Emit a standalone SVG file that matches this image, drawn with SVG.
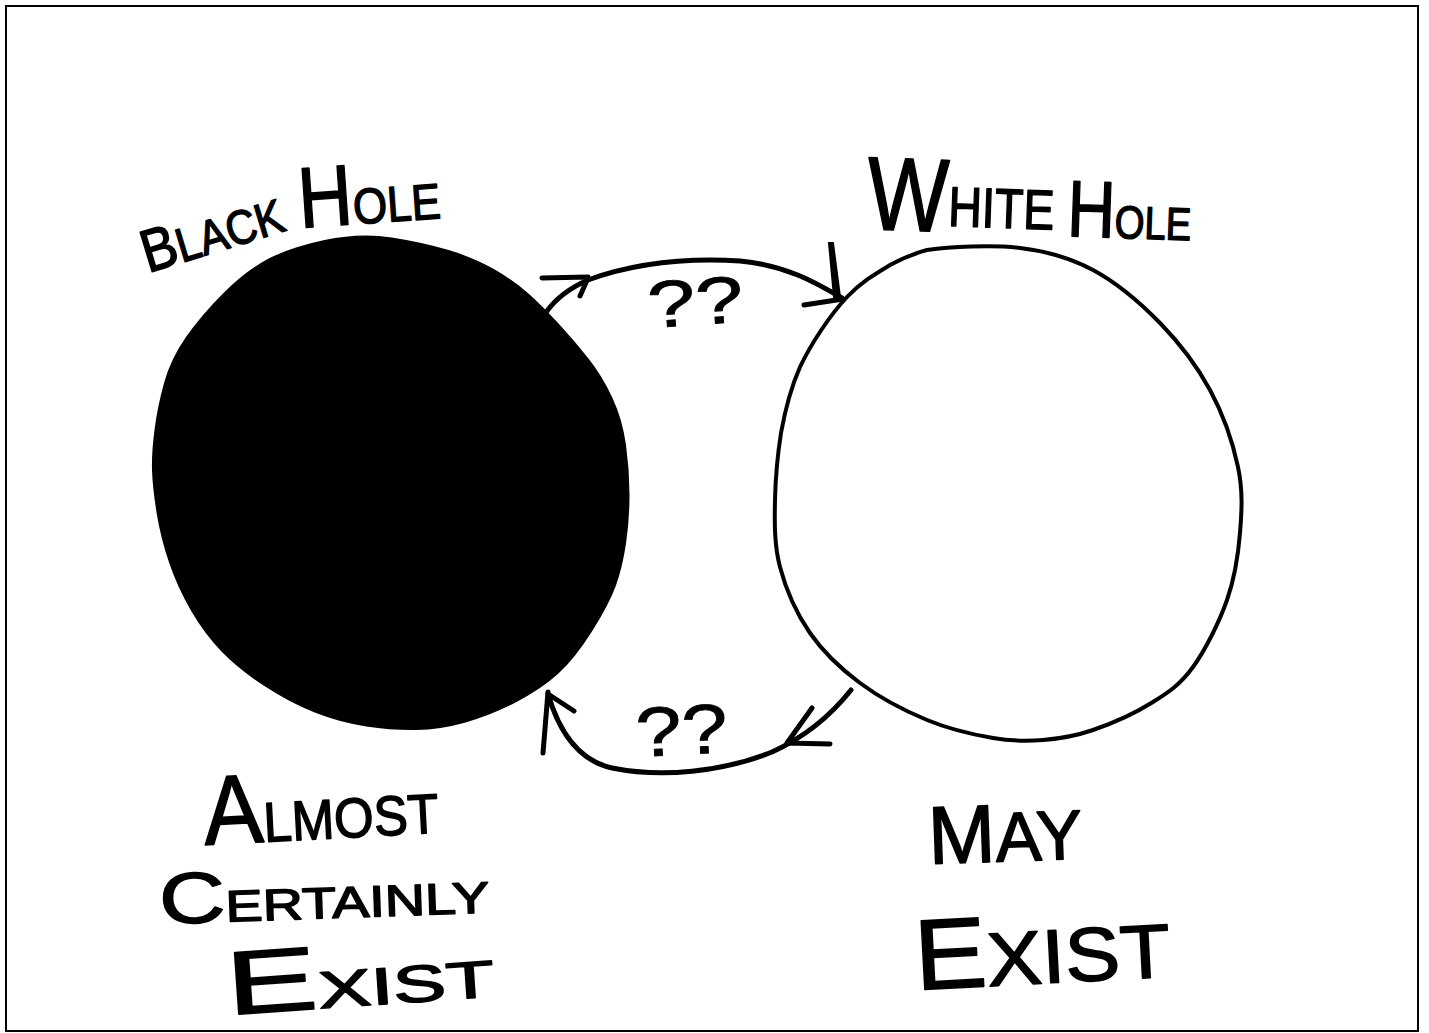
<svg xmlns="http://www.w3.org/2000/svg" width="1429" height="1033" viewBox="0 0 1429 1033">
<style>
.hand{font-family:"Liberation Sans","DejaVu Sans",sans-serif;fill:#000;stroke:#000;stroke-width:1.5;stroke-linejoin:round}
.conn{fill:none;stroke:#000;stroke-width:5;stroke-linecap:round;stroke-linejoin:round}
.head{fill:none;stroke:#000;stroke-width:5;stroke-linecap:round}
.q{font-family:"Liberation Sans","DejaVu Sans",sans-serif;fill:#000;stroke:#000;stroke-width:0.8}
</style>
<rect width="1429" height="1033" fill="#fff"/>
<rect id="frame" x="6" y="6" width="1412" height="1025" fill="none" stroke="#000" stroke-width="2"/>

<g id="black-hole">
<path d="M325,242.5 Q360,235 391.5,240 Q423,245 448,252.5 Q473,260 493,271.5 Q513,283 526.5,295 Q540,307 556.5,325 Q573,343 586.5,360 Q600,377 610,398.5 Q620,420 623.5,445 Q627,470 627,495 Q627,520 623.5,543.5 Q620,567 613.5,585 Q607,603 590,630 Q573,657 556.5,672 Q540,687 515,700 Q490,713 465,720 Q440,727 416.5,727.5 Q393,728 366.5,724 Q340,720 315,710 Q290,700 265,683.5 Q240,667 223.5,650 Q207,633 193.5,610 Q180,587 171.5,562 Q163,537 159,512 Q155,487 154.5,470 Q154,453 157,430 Q160,407 166.5,383.5 Q173,360 188,338.5 Q203,317 225,295 Q247,273 268.5,261.5 Q290,250 325,242.5 Z" fill="#000" stroke="#000" stroke-width="5" stroke-linejoin="round"/>
<text class="hand" x="148" y="273" transform="rotate(-17 148 273)" textLength="146" lengthAdjust="spacingAndGlyphs"><tspan font-size="60">B</tspan><tspan font-size="48">LACK</tspan></text>
<text class="hand" x="300" y="228" transform="rotate(-4 300 228)" textLength="142" lengthAdjust="spacingAndGlyphs"><tspan font-size="86">H</tspan><tspan font-size="50">OLE</tspan></text>
</g>

<g id="white-hole">
<path d="M927,250 C949.2,246.8 992.3,244.7 1020,248 C1047.7,251.3 1069.7,257.5 1093,270 C1116.3,282.5 1140.5,303 1160,323 C1179.5,343 1197,366 1210,390 C1223,414 1233,443.2 1238,467 C1243,490.8 1241.8,510.8 1240,533 C1238.2,555.2 1234.8,577.7 1227,600 C1219.2,622.3 1205.3,650 1193,667 C1180.7,684 1169.7,691.5 1153,702 C1136.3,712.5 1111.3,723.7 1093,730 C1074.7,736.3 1059.7,738.7 1043,740 C1026.3,741.3 1012.3,741.3 993,738 C973.7,734.7 949.2,729.2 927,720 C904.8,710.8 879.5,697.5 860,683 C840.5,668.5 823.3,652.3 810,633 C796.7,613.7 785.8,589.2 780,567 C774.2,544.8 774.5,522.3 775,500 C775.5,477.7 777.5,455.2 781,433 C785,410.8 790,389.7 800,367 C810.7,344.3 830,315 847,297 C861.5,282 875,274 890,265 C903,258 912,254 927,250 Z" fill="#fff" stroke="#000" stroke-width="4"/>
<text class="hand" x="866" y="229" transform="rotate(2 866 229)" textLength="325" lengthAdjust="spacingAndGlyphs"><tspan font-size="104">W</tspan><tspan font-size="56" dy="-6">HITE </tspan><tspan font-size="80" dy="6">H</tspan><tspan font-size="46">OLE</tspan></text>
</g>

<g id="connectors">
<g id="arrow-top">
<path class="conn" d="M547,311 C558,296 572,287 588,280 C635,263 690,258 740,261 C785,265 815,282 842,298"/>
<path class="head" d="M542,278 L588,277 M580,296 L588,278"/>
<path d="M829,243 L833,243 L840,297 L834,297 Z" fill="#000" stroke="#000" stroke-width="2"/>
<path class="head" d="M804,305 L843,299" stroke-width="7"/>
<text class="q" x="649" y="328" font-size="66" transform="rotate(-4 649 328)" textLength="96" lengthAdjust="spacingAndGlyphs">??</text>
</g>
<g id="arrow-bottom">
<path class="conn" d="M851,690 C832,714 805,737 772,752 C722,772 662,778 612,768 C580,761 560,735 548,694"/>
<path class="head" d="M548,692 L543,753 M548,694 L574,711"/>
<path class="head" d="M787,743 L812,708 M787,743 L830,744" stroke-width="4"/>
<text class="q" x="637" y="757" font-size="70" transform="rotate(-3 637 757)" textLength="92" lengthAdjust="spacingAndGlyphs">??</text>
</g>
</g>

<g id="label-almost">
<text class="hand" x="205" y="845" transform="rotate(-3 205 845)" textLength="235" lengthAdjust="spacingAndGlyphs"><tspan font-size="98">A</tspan><tspan font-size="56">LMOST</tspan></text>
<text class="hand" x="160" y="924" transform="rotate(-2 160 924)" textLength="330" lengthAdjust="spacingAndGlyphs"><tspan font-size="72">C</tspan><tspan font-size="44">ERTAINLY</tspan></text>
<text class="hand" x="228" y="1015" transform="rotate(-4 228 1015)" textLength="268" lengthAdjust="spacingAndGlyphs"><tspan font-size="90">E</tspan><tspan font-size="52">XIST</tspan></text>
</g>

<g id="label-may">
<text class="hand" x="929" y="864" transform="rotate(-2 929 864)" textLength="154" lengthAdjust="spacingAndGlyphs"><tspan font-size="82">M</tspan><tspan font-size="70">AY</tspan></text>
<text class="hand" x="916" y="990" transform="rotate(-3 916 990)" textLength="256" lengthAdjust="spacingAndGlyphs"><tspan font-size="100">E</tspan><tspan font-size="76">XIST</tspan></text>
</g>
</svg>
